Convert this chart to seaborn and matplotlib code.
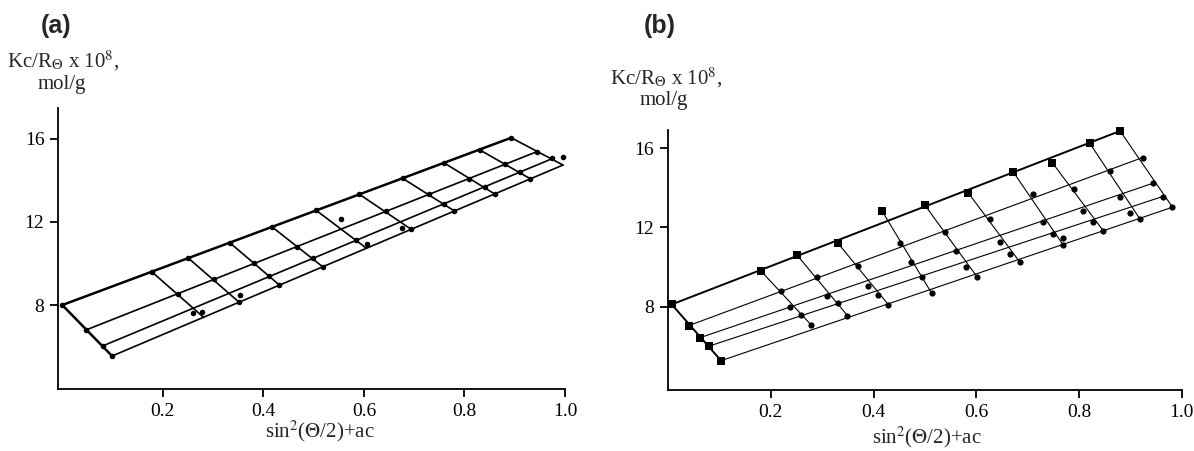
import matplotlib
matplotlib.use("Agg")
import matplotlib.pyplot as plt
import pandas as pd
import seaborn as sns

# ---------------- data: panel (a) ----------------
# Zimm grid nodes; row 0 = c->0 extrapolation, rows 1-3 = concentrations
# column 0 = theta->0 extrapolation, columns 1-10 = scattering angles
a_x = [
    [0.000, 0.178, 0.251, 0.333, 0.417, 0.504, 0.590, 0.677, 0.759, 0.831, 0.893],
    [0.047, 0.230, 0.301, 0.382, 0.467, 0.554, 0.643, 0.730, 0.809, 0.881, 0.944],
    [0.080, 0.261, 0.332, 0.412, 0.498, 0.585, 0.674, 0.760, 0.840, 0.911, 0.971],
    [0.099, 0.281, 0.352, 0.432, 0.518, 0.605, 0.694, 0.780, 0.860, 0.931, 0.996],
]
a_y = [
    [8.00, 9.60, 10.25, 11.00, 11.76, 12.57, 13.34, 14.09, 14.84, 15.45, 16.04],
    [6.80, 8.55, 9.23, 10.00, 10.81, 11.65, 12.50, 13.32, 14.08, 14.76, 15.37],
    [6.03, 7.85, 8.56, 9.38, 10.24, 11.12, 12.01, 12.88, 13.69, 14.40, 15.00],
    [5.55, 7.41, 8.13, 8.96, 9.84, 10.73, 11.64, 12.52, 13.34, 14.07, 14.73],
]
a_nodot = [(2, 1), (3, 1), (2, 2), (1, 5), (3, 5), (2, 6), (2, 10), (3, 10)]
a_extra_x = [0.261, 0.278, 0.353, 0.555, 0.607, 0.675, 0.974, 0.996]
a_extra_y = [7.60, 7.65, 8.48, 12.12, 10.95, 11.69, 15.08, 15.13]

# ---------------- data: panel (b) ----------------
b_x = [
    [0.007, 0.180, 0.251, 0.331, 0.416, 0.500, 0.584, 0.672, 0.748, 0.821, 0.880],
    [0.040, 0.219, 0.290, 0.369, 0.451, 0.540, 0.627, 0.701, 0.791, 0.860, 0.924],
    [0.062, 0.238, 0.310, 0.390, 0.472, 0.560, 0.647, 0.729, 0.807, 0.880, 0.944],
    [0.079, 0.258, 0.331, 0.409, 0.494, 0.580, 0.666, 0.750, 0.828, 0.899, 0.963],
    [0.103, 0.279, 0.349, 0.429, 0.513, 0.601, 0.685, 0.769, 0.847, 0.919, 0.982],
]
b_y = [
    [8.11, 9.82, 10.60, 11.19, 12.85, 13.12, 13.76, 14.80, 15.27, 16.25, 16.87],
    [7.04, 8.79, 9.48, 10.06, 11.20, 11.79, 12.41, 13.11, 13.93, 14.85, 15.53],
    [6.43, 8.00, 8.56, 9.05, 10.27, 10.81, 11.28, 12.26, 12.85, 13.53, 14.23],
    [6.00, 7.58, 8.20, 8.59, 9.48, 10.02, 10.66, 11.66, 12.29, 12.72, 13.56],
    [5.27, 7.06, 7.55, 8.09, 8.68, 9.52, 10.24, 11.12, 11.84, 12.41, 13.02],
]
b_nodot = [(1, 7)]
b_extra_x = [0.710, 0.769]
b_extra_y = [13.69, 11.45]

x_ticks = [0.2, 0.4, 0.6, 0.8, 1.0]
x_ticklabels = ["0.2", "0.4", "0.6", "0.8", "1.0"]
y_ticks = [8, 12, 16]
y_ticklabels = ["8", "12", "16"]

ylabel_1 = r"Kc/R$_{\Theta}$ x 10$^{8}$,"
ylabel_2 = "mol/g"
xlabel = r"sin$^{2}$($\Theta$/2)+ac"

# ---------------- style ----------------
sns.set_theme(style="white")
plt.rcParams["font.family"] = ["Liberation Serif", "DejaVu Serif"]
plt.rcParams["mathtext.fontset"] = "stix"

W, H = 1194, 451
fig = plt.figure(figsize=(W / 100, H / 100), dpi=100)
axA = fig.add_axes([0.0488, 0.1368, 0.4244, 0.6237])
axB = fig.add_axes([0.5596, 0.1353, 0.4301, 0.5765])


def segments(gx, gy, main):
    rows = []
    nr, nc = len(gx), len(gx[0])
    seg = 0
    for r in range(nr):
        if (r == 0) == main:
            rows.append((seg, gx[r][0], gy[r][0]))
            rows.append((seg, gx[r][-1], gy[r][-1]))
            seg += 1
    for c in range(nc):
        if (c == 0) == main:
            rows.append((seg, gx[0][c], gy[0][c]))
            rows.append((seg, gx[-1][c], gy[-1][c]))
            seg += 1
    return pd.DataFrame(rows, columns=["seg", "x", "y"])


def draw(ax, gx, gy, nodot, ex, ey, lw_main, lw_grid, squares, s_sq, s_c):
    sns.lineplot(data=segments(gx, gy, False), x="x", y="y", units="seg",
                 estimator=None, sort=False, color="black", linewidth=lw_grid, ax=ax)
    sns.lineplot(data=segments(gx, gy, True), x="x", y="y", units="seg",
                 estimator=None, sort=False, color="black", linewidth=lw_main, ax=ax)
    sq, cir = [], []
    for r in range(len(gx)):
        for c in range(len(gx[0])):
            if (r, c) in nodot:
                continue
            if squares and (r == 0 or c == 0):
                sq.append((gx[r][c], gy[r][c]))
            else:
                cir.append((gx[r][c], gy[r][c]))
    for x, y in zip(ex, ey):
        cir.append((x, y))
    dc = pd.DataFrame(cir, columns=["x", "y"])
    sns.scatterplot(data=dc, x="x", y="y", marker="o", s=s_c, color="black",
                    edgecolor="black", linewidth=0, ax=ax, clip_on=False, zorder=5)
    if sq:
        ds = pd.DataFrame(sq, columns=["x", "y"])
        sns.scatterplot(data=ds, x="x", y="y", marker="s", s=s_sq, color="black",
                        edgecolor="black", linewidth=0, ax=ax, clip_on=False, zorder=5)


draw(axA, a_x, a_y, a_nodot, a_extra_x, a_extra_y, 1.8, 1.2, False, 0, 16)
draw(axB, b_x, b_y, b_nodot, b_extra_x, b_extra_y, 1.4, 0.8, True, 36, 20)

axA.set_xlim(-0.008, 1.0)
axA.set_ylim(3.95, 17.47)
axB.set_xlim(0.0, 1.0)
axB.set_ylim(3.79, 16.92)

for ax in (axA, axB):
    ax.set_xlabel("")
    ax.set_ylabel("")
    ax.set_xticks(x_ticks)
    ax.set_xticklabels(x_ticklabels)
    ax.set_yticks(y_ticks)
    ax.set_yticklabels(y_ticklabels)
    for side in ("top", "right"):
        ax.spines[side].set_visible(False)
    for side in ("left", "bottom"):
        ax.spines[side].set_color("black")
        ax.spines[side].set_linewidth(1.3)
    ax.tick_params(axis="both", which="major", direction="out", length=6, width=1.3,
                   colors="black", labelsize=14, bottom=True, left=True, pad=4)
    ax.set_facecolor("white")


def ftext(px, py, s, **kw):
    fig.text(px / W, 1 - py / H, s, ha="center", va="center", **kw)


ftext(56, 26, "(a)", fontsize=18, fontweight="bold", family=["Liberation Sans", "DejaVu Sans"])
ftext(660, 26, "(b)", fontsize=18, fontweight="bold", family=["Liberation Sans", "DejaVu Sans"])
ftext(63, 61, ylabel_1, fontsize=15)
ftext(62, 85, ylabel_2, fontsize=15)
ftext(666, 78, ylabel_1, fontsize=15)
ftext(664, 100, ylabel_2, fontsize=15)
ftext(320, 431, xlabel, fontsize=15)
ftext(927, 437, xlabel, fontsize=15)

fig.savefig("out.png", dpi=100, facecolor="white")
